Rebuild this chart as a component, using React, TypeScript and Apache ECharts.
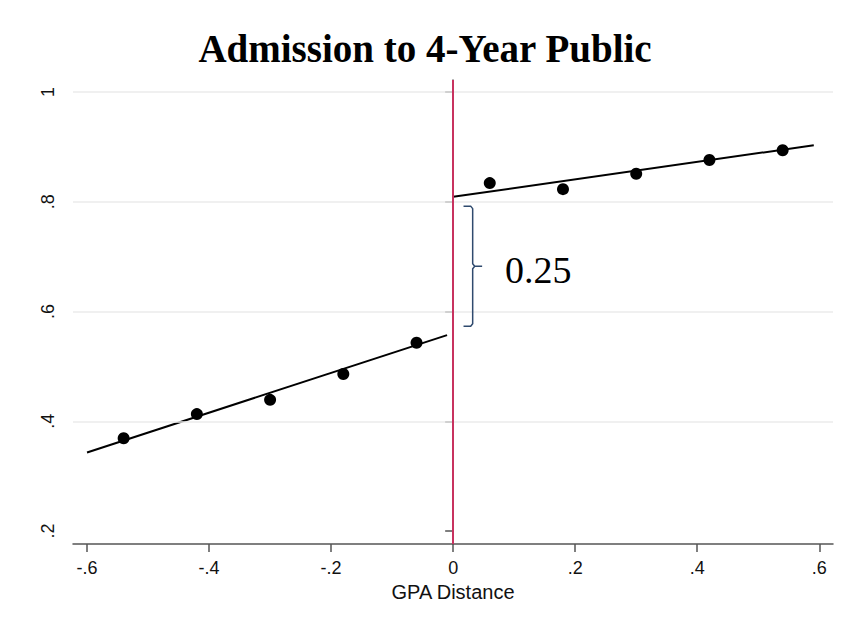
import React, { useEffect, useRef } from "react";
import * as echarts from "echarts";

// ---- data ----
const titleText = "Admission to 4-Year Public";
const xAxisName = "GPA Distance";
const xTicks = [-0.6, -0.4, -0.2, 0, 0.2, 0.4, 0.6];
const yTicks = [0.2, 0.4, 0.6, 0.8, 1];
const gridLineValues = [0.4, 0.6, 0.8, 1];
const cutoffX = 0;

// binned means
const binX = [-0.54, -0.42, -0.3, -0.18, -0.06, 0.06, 0.18, 0.3, 0.42, 0.54];
const binY = [0.369, 0.413, 0.439, 0.486, 0.543, 0.834, 0.823, 0.851, 0.876, 0.894];

// linear fits (endpoints)
const leftFitX = [-0.6, -0.01];
const leftFitY = [0.343, 0.557];
const rightFitX = [0, 0.591];
const rightFitY = [0.809, 0.903];

// gap annotation
const gapLabel = "0.25";
const braceYRange = [0.573, 0.792];
const braceXs = [0.017, 0.032, 0.0475]; // hook, spine, tip
const gapLabelPos = [0.085, 0.676];

const fmt = (v: number) => {
  if (Math.abs(v) < 1e-9) return "0";
  const s = String(+v.toFixed(2));
  return s.replace(/^(-?)0\./, "$1.");
};

export default function App() {
  const ref = useRef<HTMLDivElement>(null);
  useEffect(() => {
    if (!ref.current) return;
    const chart = echarts.init(ref.current, null, { renderer: "svg" });
    const axisColor = "#555";
    const labelColor = "#111";
    const sans = "'Liberation Sans', Arial, sans-serif";
    const serif = "'Liberation Serif', 'Times New Roman', serif";

    const option: any = {
      animation: false,
      backgroundColor: "#fff",
      title: {
        text: titleText,
        left: 420,
        textAlign: "center",
        top: 24,
        textStyle: { fontFamily: serif, fontWeight: "bold", fontSize: 39, color: "#000" },
      },
      grid: { left: 73, right: 17, top: 80, bottom: 76, containLabel: false },
      xAxis: {
        type: "value",
        min: -0.623,
        max: 0.6225,
        name: xAxisName,
        nameLocation: "middle",
        nameGap: 34,
        nameTextStyle: { fontFamily: sans, fontSize: 20, color: labelColor },
        axisLine: { show: true, lineStyle: { color: axisColor, width: 1.5 } },
        axisTick: { show: true, length: 8, customValues: xTicks, lineStyle: { color: axisColor, width: 1.5 } },
        axisLabel: {
          customValues: xTicks,
          formatter: (v: number) => fmt(v),
          fontFamily: sans,
          fontSize: 18,
          color: labelColor,
          margin: 15,
        },
        splitLine: { show: false },
      },
      yAxis: {
        type: "value",
        min: 0.1763,
        max: 1.0219,
        axisLine: { show: true, lineStyle: { color: axisColor, width: 1.5 } },
        axisTick: { show: true, length: 8, customValues: yTicks, lineStyle: { color: axisColor, width: 1.5 } },
        axisLabel: {
          customValues: yTicks,
          formatter: (v: number) => fmt(v),
          rotate: 90,
          fontFamily: sans,
          fontSize: 18,
          color: labelColor,
          margin: 16,
        },
        splitLine: { show: false },
      },
      series: [
        {
          type: "line",
          data: [],
          z: 1,
          silent: true,
          markLine: {
            silent: true,
            symbol: "none",
            label: { show: false },
            lineStyle: { color: "#ebebeb", width: 1.5, type: "solid" },
            data: gridLineValues.map((v) => ({ yAxis: v })),
          },
        },
        {
          type: "line",
          data: leftFitX.map((x, i) => [x, leftFitY[i]]),
          showSymbol: false,
          z: 3,
          lineStyle: { color: "#000", width: 2 },
        },
        {
          type: "line",
          data: rightFitX.map((x, i) => [x, rightFitY[i]]),
          showSymbol: false,
          z: 3,
          lineStyle: { color: "#000", width: 2 },
        },
        {
          type: "line",
          data: [],
          z: 4,
          silent: true,
          markLine: {
            silent: true,
            symbol: "none",
            label: { show: false },
            lineStyle: { color: "#c8325f", width: 2, type: "solid" },
            data: [{ xAxis: cutoffX }],
          },
        },
        {
          type: "scatter",
          data: binX.map((x, i) => [x, binY[i]]),
          symbol: "circle",
          symbolSize: 12,
          z: 5,
          itemStyle: { color: "#000", opacity: 1 },
        },
        {
          type: "custom",
          z: 6,
          silent: true,
          data: [[0]],
          renderItem: (params: any, api: any) => {
            const top = api.coord([braceXs[1], braceYRange[1]]);
            const bot = api.coord([braceXs[1], braceYRange[0]]);
            const hookX = api.coord([braceXs[0], braceYRange[1]])[0];
            const tipX = api.coord([braceXs[2], braceYRange[1]])[0];
            const vx = top[0];
            const ty = top[1];
            const by = bot[1];
            const my = (ty + by) / 2;
            const pts = [
              [hookX, ty],
              [vx - 2, ty],
              [vx, ty + 2.5],
              [vx, my - 2.5],
              [vx + 2, my],
              [tipX, my],
              [vx + 2, my],
              [vx, my + 2.5],
              [vx, by - 2.5],
              [vx - 2, by],
              [hookX, by],
            ];
            const lp = api.coord(gapLabelPos);
            return {
              type: "group",
              children: [
                {
                  type: "polyline",
                  shape: { points: pts },
                  style: { stroke: "#2f4a6e", lineWidth: 1.5, fill: "none" },
                },
                {
                  type: "text",
                  x: lp[0],
                  y: lp[1],
                  style: {
                    text: gapLabel,
                    fontFamily: serif,
                    fontSize: 38,
                    fill: "#000",
                    align: "left",
                    verticalAlign: "middle",
                  },
                },
              ],
            };
          },
        },
      ],
    };
    chart.setOption(option);
    return () => chart.dispose();
  }, []);
  return (
    <div
      ref={ref}
      style={{ position: "fixed", left: 0, top: 0, width: 850, height: 620, background: "#fff" }}
    />
  );
}
